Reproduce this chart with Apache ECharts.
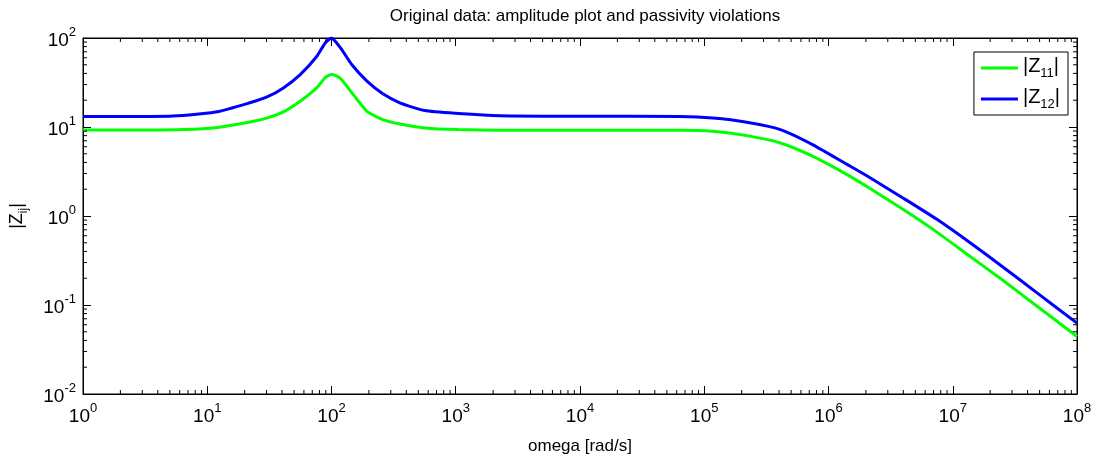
<!DOCTYPE html>
<html>
<head>
<meta charset="utf-8">
<script src="https://cdn.jsdelivr.net/npm/echarts@6/dist/echarts.min.js"></script>
<style>
  html, body { margin: 0; padding: 0; background: #fff; }
  #chart { width: 1098px; height: 457px; }
</style>
</head>
<body>
<div id="chart"></div>
<script>
// values
const omega = [1, 3.5, 6.4, 12, 22, 30, 41, 56, 76, 89, 100, 110, 121, 146, 193, 259, 355, 562,
  1050, 2290, 1e4, 6.4e4, 1.17e5, 2.2e5, 4.1e5, 7.5e5, 1.41e6, 2.16e6, 4e6, 7.5e6,
  1.38e7, 2.5e7, 4.8e7, 1e8];
const z11 = [9.25, 9.25, 9.35, 9.9, 11.4, 12.6, 14.8, 19.5, 27.5, 36, 39, 37.5, 34, 24.2, 15.0, 12.1, 10.8, 9.77,
  9.35, 9.2, 9.2, 9.2, 8.95, 8.0, 6.62, 4.68, 2.92, 2.04, 1.18, 0.655,
  0.351, 0.192, 0.0962, 0.0443];
const z12 = [13.1, 13.15, 13.5, 14.8, 18.7, 21.6, 27.5, 38.8, 62, 88, 100, 88, 74, 50, 32.7, 23.6, 18.7, 15.3,
  14.2, 13.4, 13.2, 13.1, 12.6, 11.3, 9.35, 6.31, 3.8, 2.69, 1.585, 0.912,
  0.501, 0.271, 0.136, 0.0625];

const xDecades = [0, 1, 2, 3, 4, 5, 6, 7];   // minor ticks 2..9 x 10^n
const yDecades = [-2, -1, 0, 1];
const minorK = [2, 3, 4, 5, 6, 7, 8, 9];

const xMinor = [];
xDecades.forEach(n => minorK.forEach(k => xMinor.push([k * Math.pow(10, n), 1])));
const yMinor = [];
yDecades.forEach(n => minorK.forEach(k => yMinor.push([1, k * Math.pow(10, n)])));

const FONT = "'Liberation Sans', Arial, Helvetica, sans-serif";

const powLabel = v => {
  const e = Math.round(Math.log10(v));
  return '{b|10}{s|' + e + '}';
};
const powRich = {
  b: { fontSize: 19, fontFamily: FONT, color: '#000', lineHeight: 24, verticalAlign: 'bottom' },
  s: { fontSize: 13, fontFamily: FONT, color: '#000', lineHeight: 13, verticalAlign: 'top' }
};

const chart = echarts.init(document.getElementById('chart'));

const logAxis = (extra) => Object.assign({
  type: 'log',
  logBase: 10,
  axisLine: { show: true, lineStyle: { color: '#000', width: 1 } },
  axisTick: { show: true, inside: true, length: 8, lineStyle: { color: '#000' } },
  splitLine: { show: false },
  minorTick: { show: false }
}, extra);

const minorRender = (dir) => (params, api) => {
  const cs = params.coordSys;
  const p = api.coord([api.value(0), api.value(1)]);
  const style = { stroke: '#000', lineWidth: 1 };
  const len = 4;
  if (dir === 'x') {
    return {
      type: 'group',
      children: [
        { type: 'line', shape: { x1: p[0], y1: cs.y + cs.height, x2: p[0], y2: cs.y + cs.height - len }, style },
        { type: 'line', shape: { x1: p[0], y1: cs.y, x2: p[0], y2: cs.y + len }, style }
      ]
    };
  }
  return {
    type: 'group',
    children: [
      { type: 'line', shape: { x1: cs.x, y1: p[1], x2: cs.x + len, y2: p[1] }, style },
      { type: 'line', shape: { x1: cs.x + cs.width, y1: p[1], x2: cs.x + cs.width - len, y2: p[1] }, style }
    ]
  };
};

const option = {
  animation: false,
  backgroundColor: '#fff',
  title: {
    text: 'Original data: amplitude plot and passivity violations',
    left: 580,
    textAlign: 'center',
    top: 3,
    textStyle: { fontFamily: FONT, fontSize: 17, fontWeight: 'normal', color: '#000' }
  },
  legend: {
    orient: 'vertical',
    right: 30,
    top: 52,
    data: ['Z11', 'Z12'],
    icon: 'rect',
    itemWidth: 37,
    itemHeight: 3,
    itemGap: 7,
    padding: [4, 8, 4, 7],
    borderColor: '#000',
    borderWidth: 1,
    backgroundColor: '#fff',
    formatter: name => '{t||Z}{sub|' + name.slice(1) + '}{t||}',
    textStyle: {
      rich: {
        t: { fontSize: 20, fontFamily: FONT, color: '#000', lineHeight: 24, verticalAlign: 'top' },
        sub: { fontSize: 13, fontFamily: FONT, color: '#000', lineHeight: 13, verticalAlign: 'bottom' }
      }
    }
  },
  grid: {
    left: 83, right: 21, top: 38, bottom: 63,
    containLabel: false, outerBoundsMode: 'none',
    show: true, borderColor: '#000', borderWidth: 1, backgroundColor: '#fff'
  },
  xAxis: [
    logAxis({
      min: 1, max: 1e8, position: 'bottom',
      name: 'omega [rad/s]', nameLocation: 'middle', nameGap: 44,
      nameTextStyle: { fontFamily: FONT, fontSize: 17, color: '#000' },
      axisLabel: { margin: 8, formatter: powLabel, rich: powRich }
    }),
    logAxis({ min: 1, max: 1e8, position: 'top', axisLabel: { show: false } })
  ],
  yAxis: [
    logAxis({
      min: 0.01, max: 100, position: 'left',
      name: '{t||Z}{sub|ij}{t||}', nameLocation: 'middle', nameGap: 53, nameRotate: 90,
      nameTextStyle: {
        rich: {
          t: { fontSize: 18, fontFamily: FONT, color: '#000', lineHeight: 22, verticalAlign: 'top' },
          sub: { fontSize: 12, fontFamily: FONT, color: '#000', lineHeight: 12, verticalAlign: 'bottom' }
        }
      },
      axisLabel: { margin: 7, formatter: powLabel, rich: powRich }
    }),
    logAxis({ min: 0.01, max: 100, position: 'right', axisLabel: { show: false } })
  ],
  series: [
    {
      name: 'Z11', type: 'line', showSymbol: false, symbol: 'none', smooth: 0.2,
      lineStyle: { color: '#00ff00', width: 3 }, itemStyle: { color: '#00ff00' },
      data: omega.map((w, i) => [w, z11[i]])
    },
    {
      name: 'Z12', type: 'line', showSymbol: false, symbol: 'none', smooth: 0.2,
      lineStyle: { color: '#0000ff', width: 3 }, itemStyle: { color: '#0000ff' },
      data: omega.map((w, i) => [w, z12[i]])
    },
    { type: 'custom', renderItem: minorRender('x'), data: xMinor, silent: true, z: 5 },
    { type: 'custom', renderItem: minorRender('y'), data: yMinor, silent: true, z: 5 }
  ]
};

chart.setOption(option);
</script>
</body>
</html>
